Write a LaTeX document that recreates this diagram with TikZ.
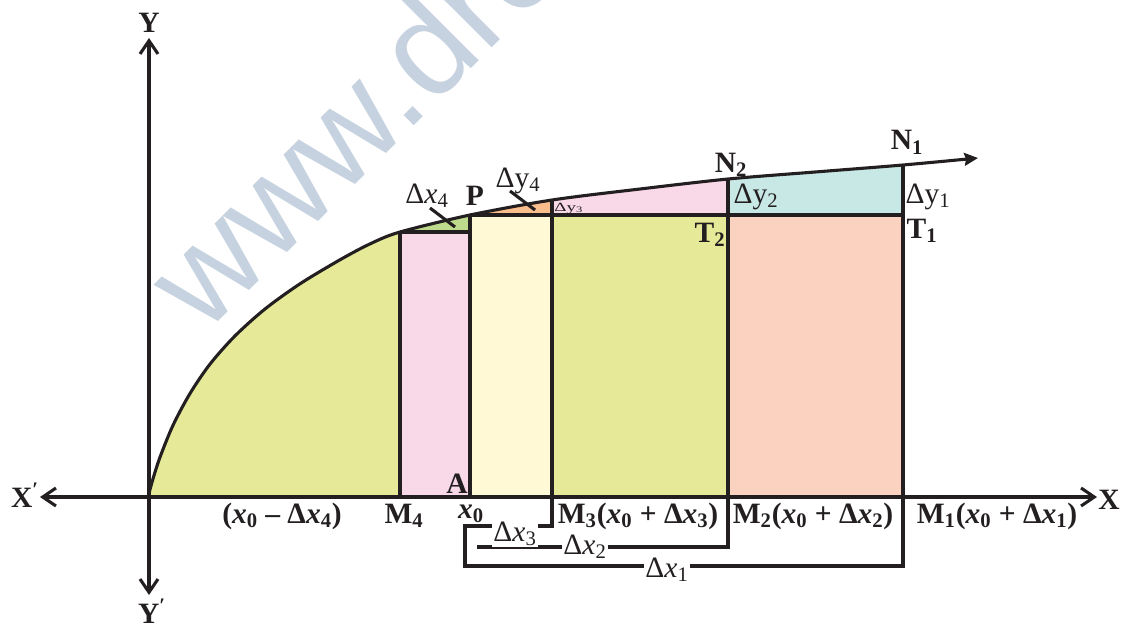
\documentclass[tikz,border=0pt]{standalone}
\usepackage{fontspec}
\usepackage{graphicx}
\setmainfont{Liberation Serif}
\newfontfamily\wmfont{Liberation Sans}
\usetikzlibrary{arrows.meta}

\definecolor{ink}{HTML}{231F20}
\definecolor{areagreen}{HTML}{E6EA98}
\definecolor{tipgreen}{HTML}{BEDA8C}
\definecolor{tiporange}{HTML}{FABE8C}
\definecolor{pinkfill}{HTML}{F9D8E8}
\definecolor{creamfill}{HTML}{FFF9D6}
\definecolor{cyanfill}{HTML}{C8E8E6}
\definecolor{salmonfill}{HTML}{FBD2C0}
\definecolor{wmgrey}{HTML}{C6D2E0}

\newcommand{\vx}[1]{\textit{x}\textsubscript{#1}}
\newcommand{\lblsize}{\fontsize{21}{24}\selectfont}
\newcommand{\curvepath}{plot[smooth, tension=0.5] coordinates {(148,497) (153,478.8) (160,457.2) (173,425.3) (190,393.5) (210,364.1) (235,335.9) (265,309) (300,283.8) (340,259.8) (370,243.9) (400,232) (470,215) (552,200) (640,189) (728,179) (815,172) (903,165) (978,158)}}

\tikzset{axtip/.tip={Straight Barb[length=0.33cm,width=0.45cm]}}

\begin{document}
\begin{tikzpicture}[x=0.025cm, y=-0.025cm, line width=2.2pt, color=ink,
  lbl/.style={font=\lblsize\bfseries, inner sep=0pt, anchor=base},
  plainlbl/.style={font=\lblsize, inner sep=0pt, anchor=base},
  brlbl/.style={font=\lblsize, fill=white, inner sep=1pt}]
\useasboundingbox (0,0) rectangle (1122,623);

% watermark
\node[font=\wmfont\fontsize{96}{100}\selectfont, text=wmgrey, rotate=45, anchor=base west, inner sep=0pt] (wm) at (203,337) {www.dre};

% points on the axis and on the curve
\coordinate (O) at (148,497);
\coordinate (M4) at (400,497);
\coordinate (A0) at (470,497);
\coordinate (M3) at (552,497);
\coordinate (M2) at (728,497);
\coordinate (M1) at (903,497);
\coordinate (Q4) at (400,232);
\coordinate (S4) at (470,232);
\coordinate (P) at (470,215);
\coordinate (Q3) at (552,200);
\coordinate (N2) at (728,179);
\coordinate (N1) at (903,165);
\coordinate (T1) at (903,215);
\coordinate (Xl) at (40,497);
\coordinate (Xr) at (1097,497);
\coordinate (Yt) at (149,38);
\coordinate (Yb) at (149,595);
\coordinate (br3) at (465,526);
\coordinate (br2) at (477,547);
\coordinate (br1) at (465,566);

% strips under the curve
\begin{scope}
\clip \curvepath -- (978,497) -- cycle;
\fill[areagreen] (O) rectangle (400,100);
\fill[tipgreen] (400,100) rectangle (S4);
\fill[pinkfill] (Q4) rectangle (A0);
\fill[tiporange] (470,100) rectangle (552,215);
\fill[creamfill] (P) rectangle (M3);
\fill[pinkfill] (552,100) rectangle (728,215);
\fill[areagreen] (552,215) rectangle (M2);
\fill[cyanfill] (728,100) rectangle (T1);
\fill[salmonfill] (728,215) rectangle (M1);
\end{scope}

\draw (M4) -- (Q4);
\draw (A0) -- (P);
\draw (M3) -- (Q3);
\draw (M2) -- (N2);
\draw (M1) -- (N1);
\draw (Q4) -- (S4);
\draw (P) -- (T1);

% brackets below the axis
\draw (M3) |- (br3) -- (br1) -| (M1);
\draw (br2) -| (M2);

% axes
\draw[axtip-axtip] (Xl) -- (Xr);
\draw[axtip-axtip] (Yb) -- (Yt);

% curve
\draw[-{Stealth[length=0.34cm,width=0.32cm,inset=0.04cm]}] \curvepath;

% pointers
\coordinate (px4a) at (430,208);
\coordinate (px4b) at (455,227);
\coordinate (py4a) at (510,191);
\coordinate (py4b) at (535,210);
\draw (px4a) -- (px4b);
\draw (py4a) -- (py4b);

% labels
\node[lbl] (ylbl) at (149,33) {Y};
\node[lbl] (yplbl) at (152,623) {Y\textsuperscript{′}};
\node[lbl] (xplbl) at (25,507) {X\textsuperscript{′}};
\node[lbl] (xlbl) at (1109,509) {X};
\node[lbl] (x4lbl) at (282,523) {(\vx{0} – Δ\vx{4})};
\node[lbl] (m4lbl) at (404,523) {M\textsubscript{4}};
\node[lbl] (x0lbl) at (471,518) {\vx{0}};
\node[lbl] (albl) at (457,493) {A};
\node[lbl] (m3lbl) at (638,523) {M\textsubscript{3}(\vx{0} + Δ\vx{3})};
\node[lbl] (m2lbl) at (813,523) {M\textsubscript{2}(\vx{0} + Δ\vx{2})};
\node[lbl] (m1lbl) at (997,523) {M\textsubscript{1}(\vx{0} + Δ\vx{1})};
\node[plainlbl] (dx4lbl) at (427,203) {Δ\vx{4}};
\node[lbl] (plbl) at (475,205) {P};
\node[plainlbl] (dy4lbl) at (518,187) {Δy\textsubscript{4}};
\node[inner sep=0pt, anchor=base] (dy3lbl) at (569,211) {\scalebox{1.5}[1]{\fontsize{9}{10}\selectfont Δy\textsubscript{3}}};
\node[lbl] (n2lbl) at (731,172) {N\textsubscript{2}};
\node[lbl] (n1lbl) at (907,150) {N\textsubscript{1}};
\node[plainlbl] (dy2lbl) at (756,203) {Δy\textsubscript{2}};
\node[plainlbl] (dy1lbl) at (928,203) {Δy\textsubscript{1}};
\node[lbl] (t2lbl) at (710,242) {T\textsubscript{2}};
\node[lbl] (t1lbl) at (922,238) {T\textsubscript{1}};
\node[brlbl] (dx3lbl) at (515,534) {Δ\vx{3}};
\node[brlbl] (dx2lbl) at (585,547) {Δ\vx{2}};
\node[brlbl] (dx1lbl) at (667,570) {Δ\vx{1}};
\end{tikzpicture}
\end{document}
